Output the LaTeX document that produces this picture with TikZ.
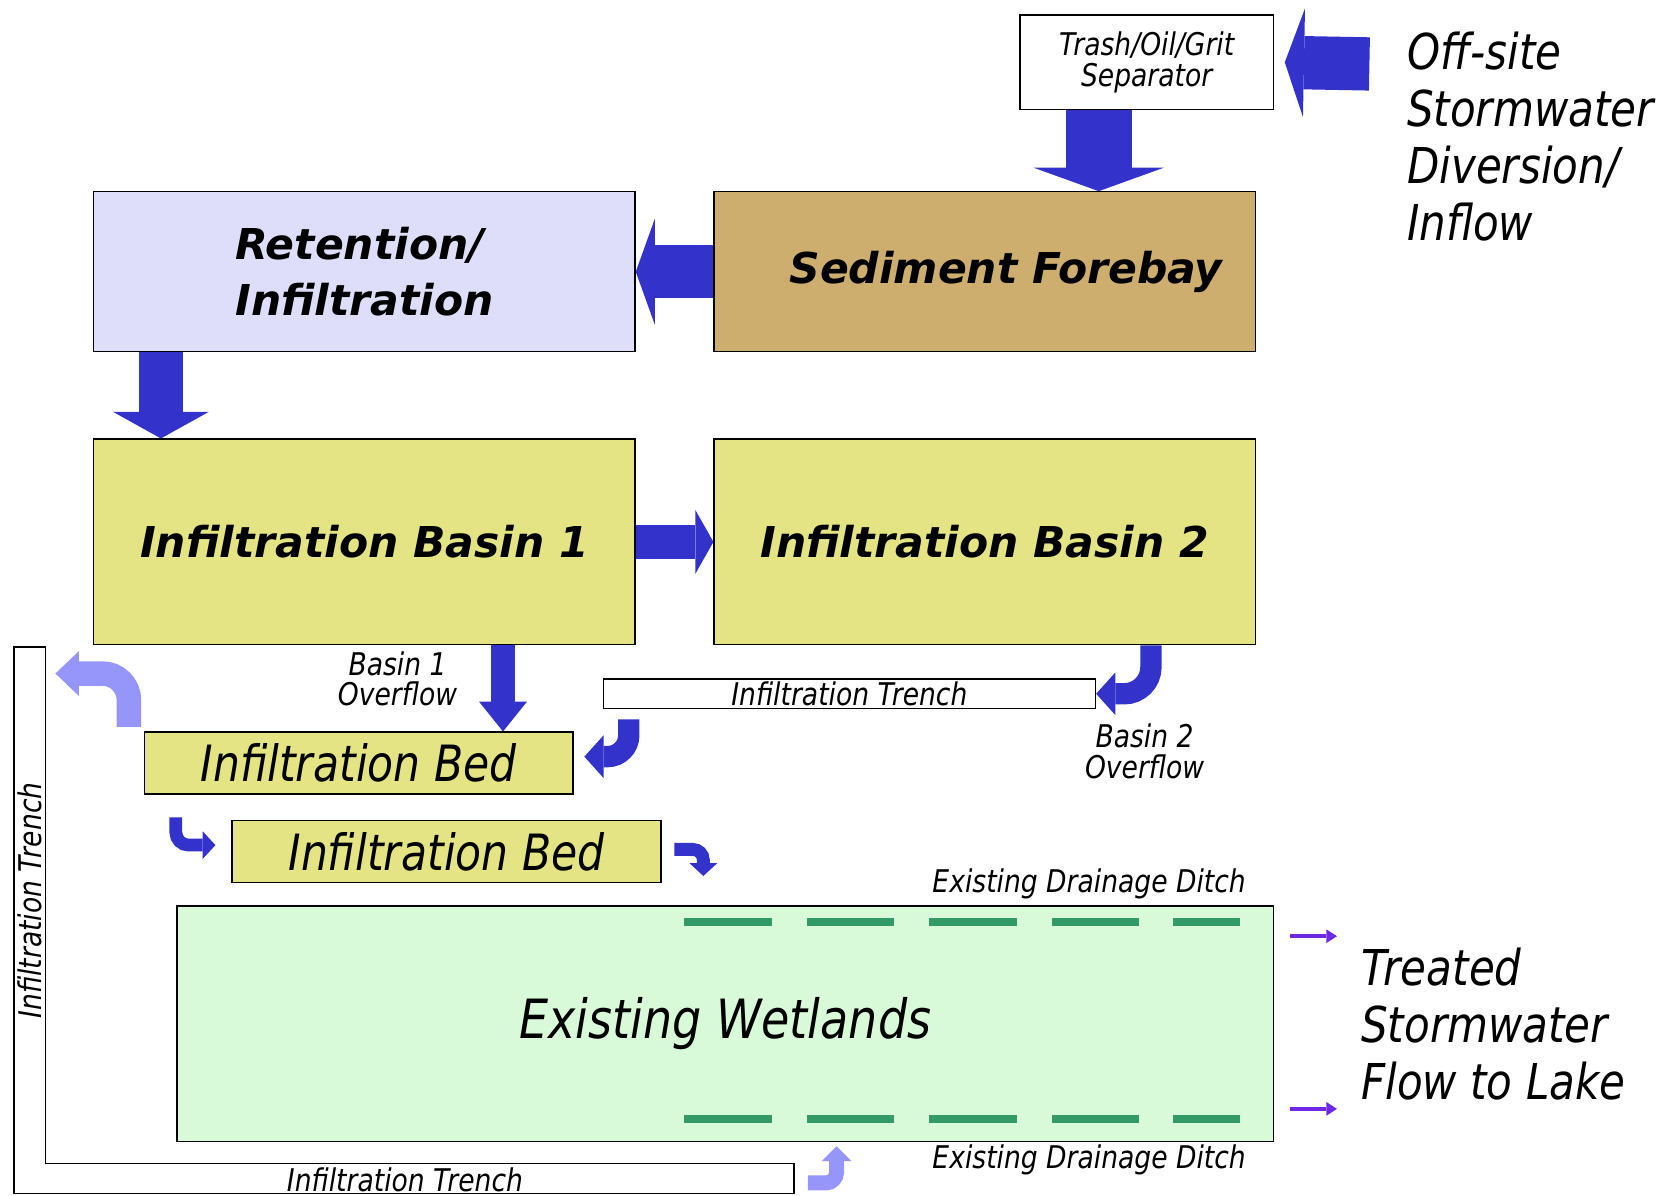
\documentclass[tikz,border=0pt]{standalone}
\usepackage{fontspec}
\setmainfont{DejaVu Sans}[ItalicFont=* Oblique,BoldItalicFont=* Bold Oblique]
\newfontfamily\schmal{DejaVu Sans}[FakeStretch=0.85,ItalicFont=* Oblique]
\usetikzlibrary{arrows.meta,calc}
\definecolor{pfeilblau}{RGB}{51,51,204}
\definecolor{pfeilhell}{RGB}{150,150,250}
\definecolor{pfeillila}{RGB}{110,40,230}
\definecolor{sandbraun}{RGB}{206,174,110}
\definecolor{beckengelb}{RGB}{228,228,132}
\definecolor{lavendel}{RGB}{222,222,250}
\definecolor{sumpfgruen}{RGB}{216,250,216}
\definecolor{grabengruen}{RGB}{51,153,102}
\newcommand{\fett}{\bfseries\itshape\fontsize{22.7}{30}\selectfont}
\newcommand{\klein}{\schmal\itshape\fontsize{16.7}{16.5}\selectfont}
\newcommand{\gross}{\schmal\itshape\fontsize{26.4}{30.4}\selectfont}
\begin{document}
\begin{tikzpicture}[x=0.02cm,y=-0.02cm,
	kasten/.style={draw,line width=0.7pt,inner sep=0pt},
	breit/.style={kasten,minimum width=10.16cm,minimum height=3cm,font=\fett},
	becken/.style={kasten,fill=beckengelb,minimum width=10.16cm,minimum height=3.86cm,font=\fett},
	beet/.style={kasten,fill=beckengelb,minimum width=8.05cm,minimum height=1.16cm,font=\schmal\itshape\fontsize{26.7}{30}\selectfont},
	pfeil/.style n args={3}{draw=pfeilblau,line width=#1,-{Triangle[width=#2,length=#3,line width=0pt]}},
	lichtpfeil/.style n args={3}{draw=pfeilhell,line width=#1,-{Triangle[width=#2,length=#3,line width=0pt]}},
	graben/.style={draw=grabengruen,line width=1.6mm}]
	\useasboundingbox (0,0) rectangle (1568,1122);
	% Kaesten
	\node[kasten,fill=white,minimum width=4.76cm,minimum height=1.78cm,align=center,font=\klein] (sep) at (1076,58.5) {Trash/Oil/Grit\\Separator};
	\node[breit,fill=sandbraun,label={[font=\fett,xshift=0.4cm]center:Sediment Forebay}] (fore) at (924,255) {};
	\node[breit,fill=lavendel,align=left] (ret) at (342,255) {Retention/\\Infiltration};
	\node[becken] (bas1) at (342,508.5) {Infiltration Basin 1};
	\node[becken] (bas2) at (924,508.5) {Infiltration Basin 2};
	\node[kasten,fill=white,minimum width=9.24cm,minimum height=0.56cm,font=\klein] (graben) at (797,651) {Infiltration Trench};
	\node[beet] (bed1) at (336.5,716) {Infiltration Bed};
	\node[beet] (bed2) at (419,799) {Infiltration Bed};
	\node[kasten,fill=sumpfgruen,minimum width=20.58cm,minimum height=4.42cm,font=\schmal\itshape\fontsize{28.9}{32}\selectfont] (wet) at (680.5,960.5) {Existing Wetlands};
	% Graben in L-Form
	\draw[line width=0.7pt,fill=white] (13,607) to ++(30,0) to ++(0,485) to ++(702,0) to ++(0,28) to ++(-732,0) to cycle;
	\node[font=\klein,rotate=90] (lgraben) at (28,845) {Infiltration Trench};
	\node[font=\klein] (ugraben) at (380,1107) {Infiltration Trench};
	% Texte
	\node[font=\gross,align=left,anchor=west,inner sep=0pt] (zutext) at (1320,128) {Off-site\\Stormwater\\Diversion/\\Inflow};
	\node[font=\gross,align=left,anchor=west,inner sep=0pt] (abtext) at (1277,961) {Treated\\Stormwater\\Flow to Lake};
	\node[font=\klein,align=center] (ueb1) at (373,637) {Basin 1\\Overflow};
	\node[font=\klein,align=center] (ueb2) at (1074,705) {Basin 2\\Overflow};
	\node[font=\klein] (graben1) at (1022,829) {Existing Drainage Ditch};
	\node[font=\klein] (graben2) at (1022,1088) {Existing Drainage Ditch};
	\foreach \a/\b in {642/724,757/839,872/954,987/1069,1101/1164}{
		\draw[graben] (\a,865) -- (\b,865);
		\draw[graben] (\a,1050) -- (\b,1050);
	}
	% Pfeile
	\coordinate (zu) at (1285,60);
	\draw[pfeil={10mm}{20.4mm}{3.6mm}] (zu) -- ($(sep.east)+(10,0)$);
	\coordinate (s1) at ($(sep.south)+(-45,0)$);
	\draw[pfeil={12.4mm}{24.4mm}{4.4mm}] (s1) -- (s1 |- fore.north);
	\draw[pfeil={10mm}{20mm}{3.6mm}] (fore.west) -- (ret.east);
	\coordinate (r1) at ($(ret.south)+(-191,0)$);
	\draw[pfeil={8.4mm}{18mm}{5mm}] (r1) -- (r1 |- bas1.north);
	\draw[pfeil={6.4mm}{12mm}{3.4mm}] (bas1.east) -- (bas2.west);
	\coordinate (b1) at ($(bas1.south)+(130,0)$);
	\draw[pfeil={4.4mm}{9mm}{5.6mm}] (b1) -- (b1 |- bed1.north);
	\coordinate (b2) at ($(bas2.south)+(156,0)$);
	\draw[pfeil={4mm}{8mm}{3.6mm},rounded corners=0.5cm] (b2) |- (graben.east);
	\coordinate (g1) at (590,675);
	\draw[pfeil={4mm}{8mm}{3.6mm},rounded corners=0.4cm] (g1) |- ($(bed1.east)+(10,-6)$);
	\coordinate (g2) at (121,682);
	\coordinate (g3) at (52,632);
	\draw[lichtpfeil={4.6mm}{8.4mm}{4.4mm},rounded corners=0.5cm] (g2) |- (g3);
	\draw[pfeil={2.4mm}{5.2mm}{2.4mm},rounded corners=0.24cm] (165,767) |- ($(bed2.west)+(-15,-6)$);
	\draw[pfeil={2.4mm}{5.2mm}{2.4mm},rounded corners=0.2cm] ($(bed2.east)+(12,-2)$) -| (660,822);
	\draw[lichtpfeil={2.8mm}{5.6mm}{2.8mm},rounded corners=0.2cm] (758,1110) -| ($(wet.south)+(104.5,4)$);
	\draw[draw=pfeillila,line width=0.8mm,-{Triangle[width=2.6mm,length=2mm,line width=0pt]}] ($(wet.east)+(15,-82)$) -- ++(44,0);
	\draw[draw=pfeillila,line width=0.8mm,-{Triangle[width=2.6mm,length=2mm,line width=0pt]}] ($(wet.east)+(15,80)$) -- ++(44,0);
\end{tikzpicture}
\end{document}
